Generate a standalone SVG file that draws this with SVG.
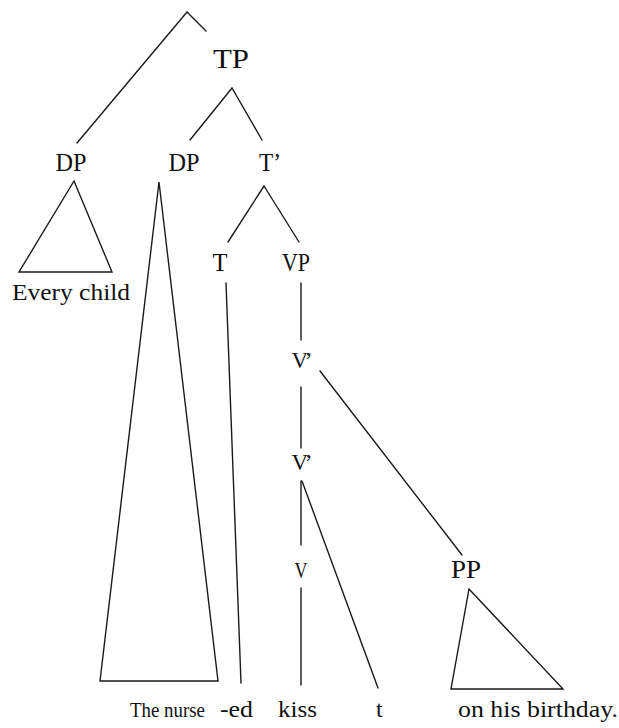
<svg xmlns="http://www.w3.org/2000/svg" width="619" height="728" viewBox="0 0 619 728">
<style>
.ln{stroke:#1a1a1a;stroke-width:1.4;fill:none;stroke-linecap:round;stroke-linejoin:miter}
.lb{font-family:"Liberation Serif","Times New Roman",serif;font-size:26px;fill:#111;text-anchor:middle}
.sm{font-family:"Liberation Serif","Times New Roman",serif;font-size:23px;fill:#111;text-anchor:middle}
.wd{font-family:"Liberation Serif","Times New Roman",serif;font-size:24px;fill:#111}
</style>
<rect width="619" height="728" fill="#fff"/>
<g id="connectors" class="ln">
<path d="M187,12 L77,143"/>
<path d="M187,12 L206,31"/>
<path d="M232,88 L190,140"/>
<path d="M232,88 L262,140"/>
<path d="M264,186 L228,242"/>
<path d="M264,186 L299,242"/>
<path d="M226,283 L241,683"/>
<path d="M301,283 L301,340"/>
<path d="M320,371 L462,555"/>
<path d="M301,387 L301,448"/>
<path d="M301,481 L301,545"/>
<path d="M302,481 L378,688"/>
<path d="M301,588 L301,685"/>
</g>
<g id="node-TP"><text class="lb" x="231" y="68" style="font-size:28px" textLength="36" lengthAdjust="spacingAndGlyphs">TP</text></g>
<g id="node-DP1"><text class="lb" x="71" y="171" textLength="31" lengthAdjust="spacingAndGlyphs">DP</text></g>
<g id="node-DP1-tri"><polygon class="ln" points="74,181 19,272 112,272"/></g>
<g id="node-EveryChild"><text class="wd" x="12" y="300" textLength="118" lengthAdjust="spacingAndGlyphs">Every child</text></g>
<g id="node-DP2"><text class="lb" x="184" y="171" textLength="31" lengthAdjust="spacingAndGlyphs">DP</text></g>
<g id="node-DP2-tri"><polygon class="ln" points="159,182 100,681 218,681"/></g>
<g id="node-Tbar"><text class="lb" x="270" y="171" textLength="22" lengthAdjust="spacingAndGlyphs">T’</text></g>
<g id="node-T"><text class="lb" x="220" y="271" textLength="15" lengthAdjust="spacingAndGlyphs">T</text></g>
<g id="node-VP"><text class="lb" x="296" y="271" textLength="28" lengthAdjust="spacingAndGlyphs">VP</text></g>
<g id="node-Vbar1"><text class="sm" x="302" y="368" textLength="21" lengthAdjust="spacing">V’</text></g>
<g id="node-Vbar2"><text class="sm" x="302" y="470" textLength="21" lengthAdjust="spacing">V’</text></g>
<g id="node-V"><text class="sm" x="301" y="578" textLength="13" lengthAdjust="spacingAndGlyphs">V</text></g>
<g id="node-PP"><text class="lb" x="466" y="578" textLength="30" lengthAdjust="spacingAndGlyphs">PP</text></g>
<g id="node-PP-tri"><polygon class="ln" points="469,589 451,689 563,689"/></g>
<g id="words">
<text class="wd" x="130" y="717" style="font-size:22px" textLength="75" lengthAdjust="spacingAndGlyphs">The nurse</text>
<text class="wd" x="220" y="717" textLength="33" lengthAdjust="spacingAndGlyphs">-ed</text>
<text class="wd" x="278" y="717" textLength="39" lengthAdjust="spacingAndGlyphs">kiss</text>
<text class="wd" x="376" y="717">t</text>
<text class="wd" x="458" y="717" textLength="160" lengthAdjust="spacingAndGlyphs">on his birthday.</text>
</g>
</svg>
